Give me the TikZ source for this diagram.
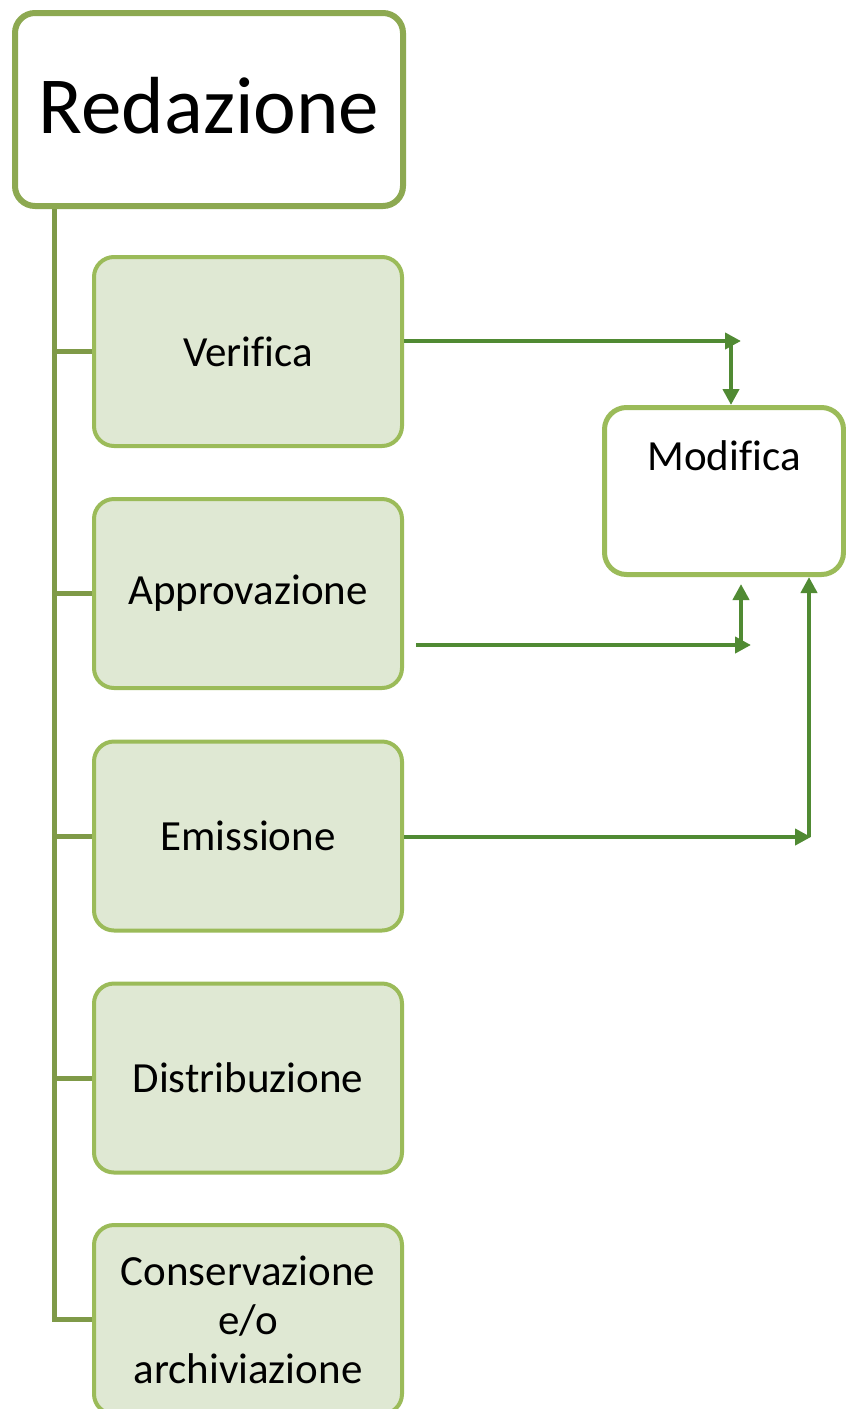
\documentclass[tikz,border=0pt]{standalone}
\usepackage{fontspec}
\setmainfont{Carlito}[Ligatures={NoCommon}]
\usetikzlibrary{arrows.meta,calc}
\definecolor{olive}{RGB}{141,169,81}
\definecolor{trunkc}{RGB}{127,154,72}
\definecolor{lgreen}{RGB}{155,187,89}
\definecolor{lfill}{RGB}{223,232,211}
\definecolor{arrc}{RGB}{80,138,51}
\tikzset{
  topbox/.style={draw=olive,line width=6pt,fill=white,rounded corners=20pt,minimum width=388pt,minimum height=193pt,inner sep=0pt},
  stepbox/.style={draw=lgreen,line width=4pt,fill=lfill,rounded corners=20pt,minimum width=308pt,minimum height=189pt,inner sep=0pt,align=center,font=\fontsize{43}{49}\selectfont},
  modbox/.style={draw=lgreen,line width=5pt,fill=white,rounded corners=22pt,minimum width=239pt,minimum height=167pt,inner sep=0pt},
  trunk/.style={draw=trunkc,line width=5pt},
  arr/.style={draw=arrc,line width=4pt,-{Triangle[length=16pt,width=16pt]}}
}
\begin{document}
\begin{tikzpicture}[x=1pt,y=-1pt]
\clip (0,0) rectangle (846,1409);
\fill[white] (0,0) rectangle (846,1409);
\node[topbox] (red) at (209,109.5) {};
\node[font=\fontsize{81}{90}\selectfont] (redt) at (209,106) {Redazione};
\node[stepbox] (b1) at (248,351.5) {Verifica};
\node[stepbox] (b2) at (248,593.5) {Approvazione};
\node[stepbox] (b3) at (248,836) {Emissione};
\node[stepbox] (b4) at (248,1078) {Distribuzione};
\node[stepbox] (b5) at (248,1319.5) {Conservazione\\e/o\\archiviazione};
\node[modbox] (mod) at (724,491) {};
\node[anchor=base,font=\fontsize{43}{49}\selectfont] (modt) at (724,470) {Modifica};
% trunk
\coordinate (t) at (54.5,209);
\draw[trunk] (t) |- (b5.west);
\foreach \b in {b1,b2,b3,b4} {\draw[trunk] (t |- \b.west) -- (\b.west);}
% arrows
\coordinate (a1) at (741,341);
\coordinate (v1) at (731,341);
\draw[arr] (b1.east |- a1) -- (a1);
\draw[arr] (v1) -- (mod.north -| v1);
\coordinate (s2) at (416,645);
\coordinate (a2) at (751,645);
\coordinate (v2) at (741,645);
\coordinate (e2) at (741,584);
\draw[arr] (s2) -- (a2);
\draw[arr] (v2) -- (e2);
\coordinate (a3) at (811,837);
\coordinate (v3) at (809,837);
\draw[arr] (b3.east |- a3) -- (a3);
\draw[arr] (v3) -- (mod.south -| v3);
\end{tikzpicture}
\end{document}
